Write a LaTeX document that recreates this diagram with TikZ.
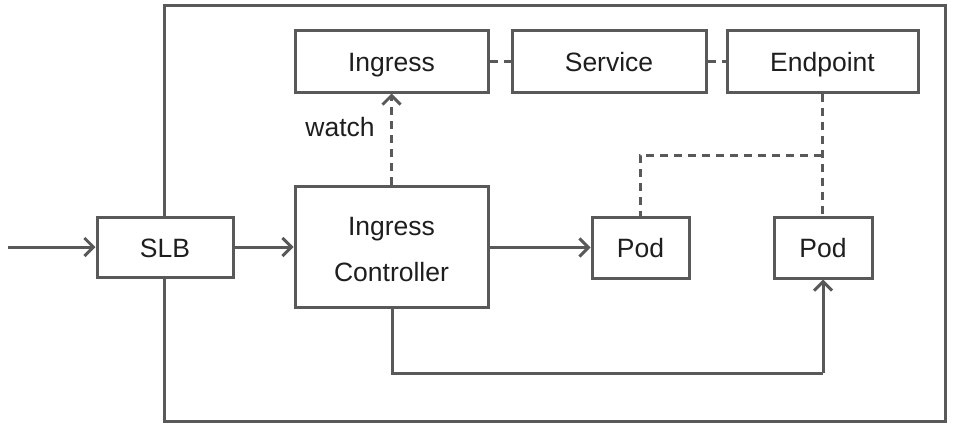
\documentclass[tikz,border=0pt]{standalone}
\usepackage{fontspec}
\setmainfont{Liberation Sans}
\usetikzlibrary{arrows.meta}
\definecolor{ln}{HTML}{595959}
\definecolor{tx}{HTML}{1E1E1E}
\begin{document}
\begin{tikzpicture}[x=1pt,y=-1pt,
  box/.style={draw=ln,line width=3pt,fill=white,inner sep=0pt,font=\fontsize{26.5}{46}\selectfont,text=tx,align=center},
  one/.style={text height=22pt,text depth=2pt},
  conn/.style={draw=ln,line width=3pt},
  arr/.style={conn,-{Straight Barb[length=9pt,width=18pt,line width=3pt]}},
  dsh/.style={conn,dash pattern=on 8pt off 6pt}]
\useasboundingbox (0,0) rectangle (960,428);
\draw[ln,line width=3pt] (164,6) rectangle (945,421);
\node[box,one,minimum width=136pt,minimum height=60pt] (slb) at (165,247) {SLB};
\node[box,one,minimum width=193pt,minimum height=61pt] (ing) at (391.5,61.5) {Ingress};
\node[box,one,minimum width=194pt,minimum height=61pt] (svc) at (609,61.5) {Service};
\node[box,one,minimum width=191pt,minimum height=61pt] (ep) at (822.5,61.5) {Endpoint};
\node[box,minimum width=193pt,minimum height=121pt] (ic) at (391.5,246.5) {};
\node[font=\fontsize{26.5}{46}\selectfont,text=tx,align=center,inner sep=0pt] (ict) at (391.5,249.5) {Ingress\\Controller};
\node[box,one,minimum width=97pt,minimum height=61pt] (p1) at (640.5,247.5) {Pod};
\node[box,one,minimum width=98pt,minimum height=61pt] (p2) at (823,247.5) {Pod};
\coordinate (in) at (8,247);
\coordinate (j) at (822,155);
\coordinate (k) at (640,155);
\coordinate (b1) at (392,373);
\coordinate (b2) at (823,373);
\draw[arr] (in) -- (slb.west);
\draw[arr] (slb.east) -- (ic.west |- slb.east);
\draw[arr] (ic.east |- p1.west) -- (p1.west);
\draw[dsh,-{Straight Barb[length=9pt,width=18pt,line width=3pt]}] (ic.north) -- (ing.south);
\node[font=\fontsize{26.5}{30}\selectfont,text=tx,inner sep=0pt] (w) at (340,127) {watch};
\draw[dsh] (ing.east) -- (svc.west);
\draw[dsh] (svc.east) -- (ep.west);
\draw[dsh] (ep.south -| j) -- (j) -- (p2.north -| j);
\draw[dsh] (j) -- (k) -- (p1.north -| k);
\draw[conn] (b1 |- ic.south) -- (b1) -- (b2);
\draw[arr] (b2) -- (p2.south);
\end{tikzpicture}
\end{document}
